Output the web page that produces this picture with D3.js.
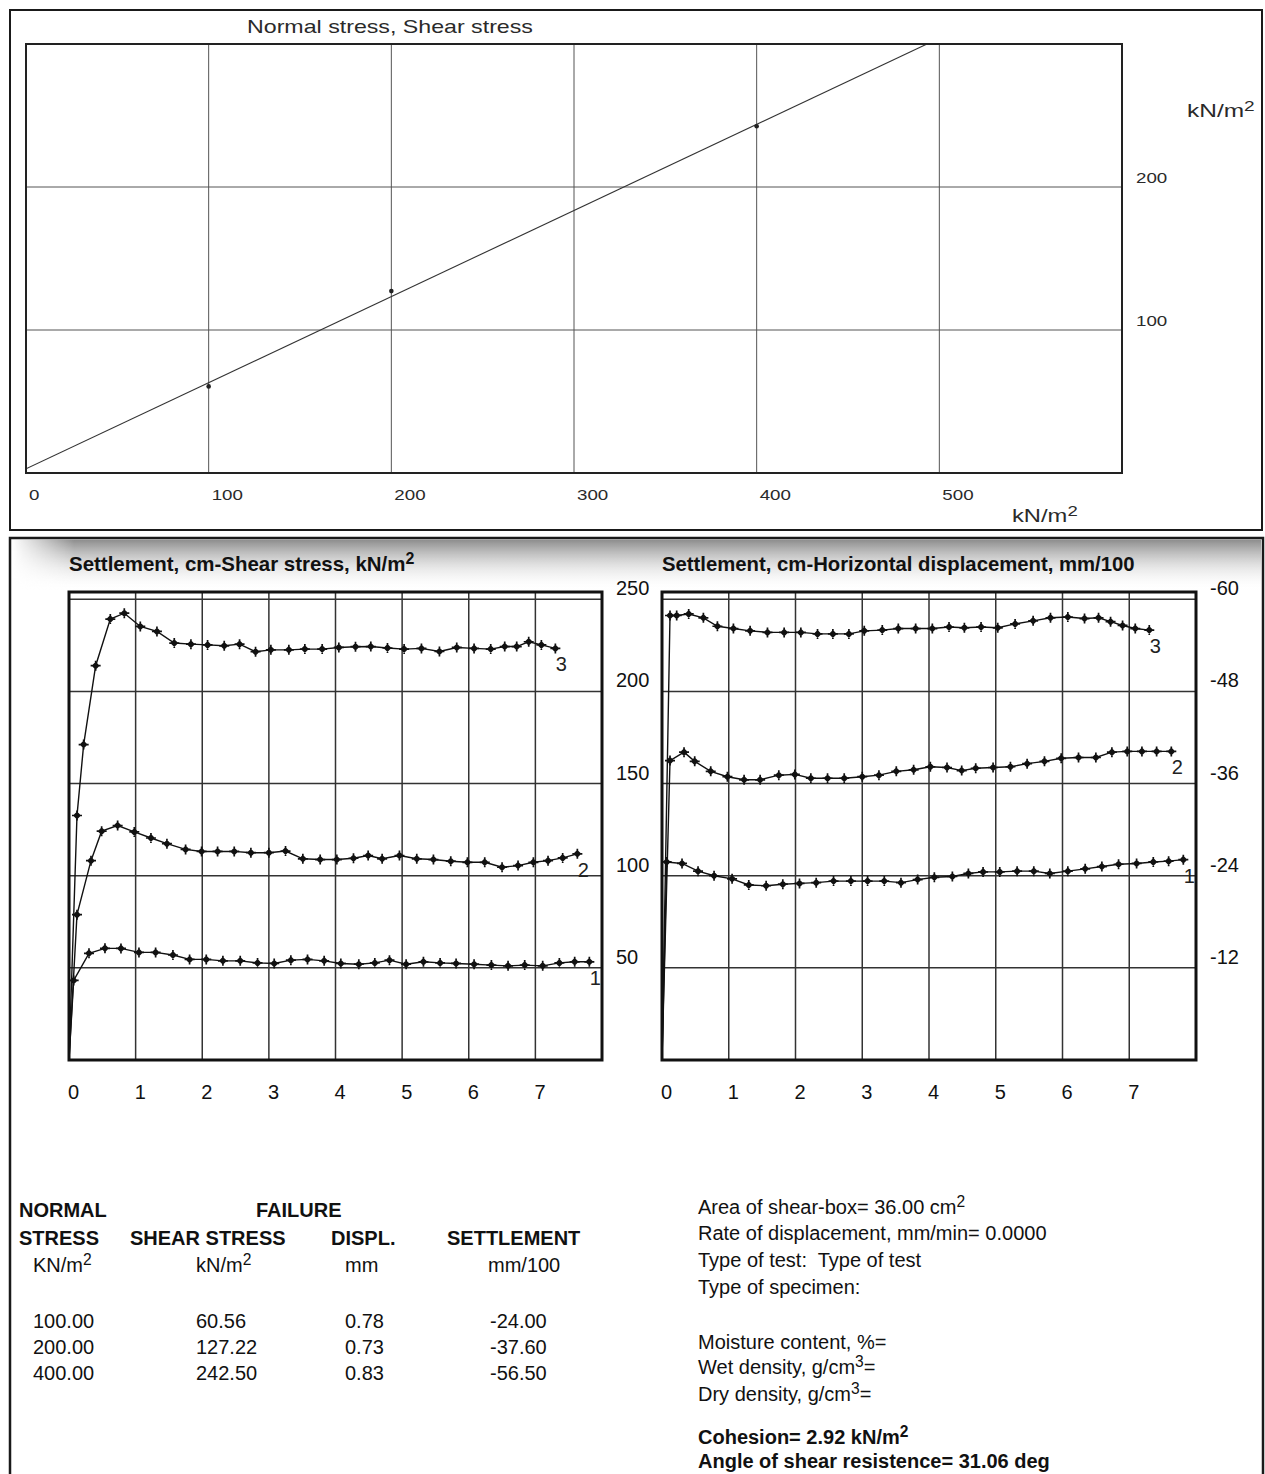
<!DOCTYPE html>
<html><head><meta charset="utf-8">
<script src="https://cdn.jsdelivr.net/npm/d3@7"></script>
<style>
html,body{margin:0;padding:0;background:#fff;}
svg{display:block;font-family:"Liberation Sans",Arial,sans-serif;}
</style></head><body>
<svg id="c" width="1265" height="1474"></svg>
<script>
// ---------------- DATA ----------------
const normalStress      = [100, 200, 400];
const failureShear      = [60.56, 127.22, 242.50];
const failureDispl      = [0.78, 0.73, 0.83];
const failureSettlement = [-24.00, -37.60, -56.50];
const cohesion = 2.92;
const phiDeg   = 31.06;

const topXTicks = [0, 100, 200, 300, 400, 500];
const topYTicks = [100, 200];
const shearTicks = [50, 100, 150, 200, 250];
const settleTicks = [-12, -24, -36, -48, -60];
const dispTicks = [0, 1, 2, 3, 4, 5, 6, 7];

// sample 1 (100 kN/m2)
const disp1   = [0.07,0.30,0.54,0.78,1.05,1.30,1.56,1.81,2.06,2.31,2.57,2.83,3.08,3.33,3.58,3.83,4.08,4.35,4.59,4.81,5.06,5.32,5.57,5.81,6.08,6.34,6.59,6.84,7.11,7.36,7.59,7.81];
const shear1  = [43.2,57.9,60.6,60.56,58.4,58.4,57.0,54.6,54.6,53.8,53.8,52.7,52.4,54.2,54.6,53.8,52.4,52.0,52.7,54.2,52.0,53.3,52.7,52.4,52.0,51.5,51.1,51.5,51.1,52.7,53.3,53.3];
const settle1 = [-25.8,-25.6,-24.6,-24.0,-23.6,-22.8,-22.7,-22.9,-23.0,-23.1,-23.3,-23.3,-23.3,-23.3,-23.1,-23.5,-23.8,-23.9,-24.3,-24.5,-24.5,-24.6,-24.6,-24.3,-24.6,-24.9,-25.2,-25.5,-25.6,-25.8,-25.9,-26.1];
// sample 2 (200 kN/m2)
const disp2   = [0.12,0.33,0.49,0.73,0.98,1.23,1.47,1.75,1.99,2.23,2.48,2.73,3.00,3.25,3.51,3.77,4.02,4.27,4.49,4.70,4.96,5.22,5.47,5.73,5.98,6.24,6.50,6.74,6.97,7.19,7.41,7.63];
const shear2  = [78.9,108.2,124.2,127.22,123.8,120.5,117.4,114.3,113.2,113.2,113.2,112.5,112.5,113.4,109.2,108.8,108.8,109.5,111.0,109.2,111.0,109.2,108.8,107.9,107.3,107.3,104.6,105.5,107.3,108.2,109.7,111.9];
const settle2 = [-39.0,-40.1,-38.9,-37.6,-36.9,-36.5,-36.5,-37.1,-37.2,-36.7,-36.7,-36.7,-36.9,-37.1,-37.6,-37.8,-38.2,-38.1,-37.7,-38.0,-38.1,-38.2,-38.6,-38.9,-39.3,-39.4,-39.4,-40.1,-40.2,-40.2,-40.2,-40.2];
// sample 3 (400 kN/m2)
const disp3   = [0.12,0.22,0.40,0.62,0.83,1.07,1.32,1.58,1.83,2.08,2.33,2.56,2.80,3.03,3.30,3.54,3.80,4.05,4.30,4.53,4.78,5.03,5.29,5.56,5.82,6.08,6.33,6.54,6.72,6.90,7.09,7.30];
const shear3  = [132.7,171.2,214.0,239.3,242.5,235.3,232.6,226.3,225.7,225.3,224.8,225.7,221.6,222.6,222.6,223.0,223.0,223.9,224.3,224.4,223.6,223.0,223.4,221.7,223.9,223.4,223.0,224.4,224.4,227.0,225.3,223.4];
const settle3 = [-57.9,-57.9,-58.1,-57.6,-56.5,-56.2,-55.9,-55.7,-55.7,-55.7,-55.5,-55.5,-55.5,-55.9,-56.0,-56.2,-56.2,-56.2,-56.4,-56.3,-56.4,-56.3,-56.8,-57.2,-57.6,-57.7,-57.5,-57.6,-57.1,-56.6,-56.2,-56.0];
const seriesNames = ["1", "2", "3"];

const topTitle = "Normal stress, Shear stress";
const unitText = ["kN/m", "2"];
const leftTitle = ["Settlement, cm-Shear stress, kN/m", "2"];
const rightTitle = "Settlement, cm-Horizontal displacement, mm/100";
const tableHead1 = ["NORMAL", "FAILURE"];
const tableHead2 = ["STRESS", "SHEAR STRESS", "DISPL.", "SETTLEMENT"];
const tableUnits = [[["KN/m"],["2",1]], [["kN/m"],["2",1]], [["mm"]], [["mm/100"]]];
const infoLines = [
  [["Area of shear-box= 36.00 cm"],["2",1]],
  [["Rate of displacement, mm/min= 0.0000"]],
  [["Type of test:  Type of test"]],
  [["Type of specimen:"]],
  [["Moisture content, %="]],
  [["Wet density, g/cm"],["3",1],["="]],
  [["Dry density, g/cm"],["3",1],["="]]
];
const resultLines = [
  [["Cohesion= " + cohesion.toFixed(2) + " kN/m"],["2",1]],
  [["Angle of shear resistence= " + phiDeg.toFixed(2) + " deg"]]
];

// ---------------- HELPERS ----------------
const svg = d3.select("#c");
const defs = svg.append("defs");
const INK = "#111";

function txt(parent, x, y, parts, o = {}) {
  const size = o.size || 20;
  const t = parent.append("text")
    .attr("font-size", size)
    .attr("font-weight", o.bold ? "bold" : "normal")
    .attr("text-anchor", o.anchor || "start")
    .attr("fill", o.fill || INK)
    .style("white-space", "pre");
  const arr = typeof parts === "string" ? [[parts]] : parts;
  let raised = false;
  arr.forEach(p => {
    const ts = t.append("tspan").text(p[0]);
    if (p[1]) {
      ts.attr("font-size", size * 0.78).attr("dy", -size * 0.36);
      raised = true;
    } else if (raised) {
      ts.attr("dy", size * 0.36);
      raised = false;
    }
  });
  let sx = o.sx || 1;
  if (o.w) {
    const bw = t.node().getBBox().width;
    if (bw > 0) sx = o.w / bw;
  }
  t.attr("transform", `translate(${x},${y}) scale(${sx},1)`);
  return t;
}

// ---------------- PANELS ----------------
svg.append("rect").attr("x", 10).attr("y", 10).attr("width", 1252).attr("height", 520)
  .attr("fill", "#fff").attr("stroke", "#1a1a1a").attr("stroke-width", 2);
svg.append("rect").attr("x", 10).attr("y", 538).attr("width", 1253).attr("height", 980)
  .attr("fill", "#fff").attr("stroke", "#1a1a1a").attr("stroke-width", 2.5);

// shading at top of the lower panel
const gV = defs.append("linearGradient").attr("id", "shadeV").attr("x1", 0).attr("y1", 0).attr("x2", 0).attr("y2", 1);
gV.append("stop").attr("offset", 0).attr("stop-color", "#7f7f7f").attr("stop-opacity", 0.9);
gV.append("stop").attr("offset", 0.45).attr("stop-color", "#c4c4c4").attr("stop-opacity", 0.6);
gV.append("stop").attr("offset", 1).attr("stop-color", "#ffffff").attr("stop-opacity", 0);
const gH = defs.append("linearGradient").attr("id", "shadeH").attr("x1", 0).attr("y1", 0).attr("x2", 1).attr("y2", 0);
gH.append("stop").attr("offset", 0).attr("stop-color", "#fff").attr("stop-opacity", 0);
gH.append("stop").attr("offset", 0.05).attr("stop-color", "#fff").attr("stop-opacity", 1);
gH.append("stop").attr("offset", 1).attr("stop-color", "#fff").attr("stop-opacity", 1);
const mask = defs.append("mask").attr("id", "shadeMask");
mask.append("rect").attr("x", 12).attr("y", 539).attr("width", 1249).attr("height", 52).attr("fill", "url(#shadeH)");
svg.append("rect").attr("x", 12).attr("y", 539.5).attr("width", 1249).attr("height", 52)
  .attr("fill", "url(#shadeV)").attr("mask", "url(#shadeMask)");

// ---------------- TOP CHART ----------------
const xT = d3.scaleLinear([0, 600], [26, 1122]);
const yT = d3.scaleLinear([0, 300], [473, 44]);
const topG = svg.append("g");
topG.append("rect").attr("x", xT(0)).attr("y", yT(300)).attr("width", xT(600) - xT(0)).attr("height", yT(0) - yT(300))
  .attr("fill", "#fff");
topG.selectAll(".vg").data(topXTicks.filter(d => d > 0)).join("line")
  .attr("x1", d => xT(d)).attr("x2", d => xT(d)).attr("y1", yT(0)).attr("y2", yT(300))
  .attr("stroke", "#555").attr("stroke-width", 1);
topG.selectAll(".hg").data(topYTicks).join("line")
  .attr("x1", xT(0)).attr("x2", xT(600)).attr("y1", d => yT(d)).attr("y2", d => yT(d))
  .attr("stroke", "#555").attr("stroke-width", 1);
defs.append("clipPath").attr("id", "topClip").append("rect")
  .attr("x", xT(0)).attr("y", yT(300)).attr("width", xT(600) - xT(0)).attr("height", yT(0) - yT(300));
const tanPhi = Math.tan(phiDeg * Math.PI / 180);
const envelope = [0, 600].map(s => [s, cohesion + tanPhi * s]);
topG.append("path").datum(envelope).attr("clip-path", "url(#topClip)")
  .attr("d", d3.line().x(d => xT(d[0])).y(d => yT(d[1])))
  .attr("fill", "none").attr("stroke", "#333").attr("stroke-width", 1.1);
topG.selectAll(".pt").data(normalStress.map((s, i) => [s, failureShear[i]])).join("circle")
  .attr("cx", d => xT(d[0])).attr("cy", d => yT(d[1])).attr("r", 2.3).attr("fill", "#222");
topG.append("rect").attr("x", xT(0)).attr("y", yT(300)).attr("width", xT(600) - xT(0)).attr("height", yT(0) - yT(300))
  .attr("fill", "none").attr("stroke", "#222").attr("stroke-width", 2);
topXTicks.forEach(v => txt(topG, xT(v) + 3, 500, String(v), { size: 15, sx: 1.25, fill: "#2a2a2a" }));
topYTicks.forEach(v => txt(topG, 1136, yT(v) - 4, String(v), { size: 15, sx: 1.25, fill: "#2a2a2a" }));
txt(topG, 247, 33, topTitle, { size: 18, w: 286, fill: "#2a2a2a" });
txt(topG, 1012, 522, [[unitText[0]], [unitText[1], 1]], { size: 18, w: 66, fill: "#2a2a2a" });
txt(topG, 1187, 117, [[unitText[0]], [unitText[1], 1]], { size: 18, w: 68, fill: "#2a2a2a" });

// ---------------- BOTTOM CHARTS ----------------
const xL = d3.scaleLinear([0, 8], [69, 602]);
const yL = d3.scaleLinear([0, 254], [1060, 592]);
const xR = d3.scaleLinear([0, 8], [662, 1196]);
const yR = d3.scaleLinear([0, -60.96], [1060, 592]);

const markerPath = "M-5,0H5M0,-5V5M0,-2.8L2.8,0L0,2.8L-2.8,0Z";

function drawPanel(xs, ys, yTicks, series, tickX) {
  const g = svg.append("g");
  g.append("rect").attr("x", xs.range()[0]).attr("y", ys.range()[1])
    .attr("width", xs.range()[1] - xs.range()[0]).attr("height", ys.range()[0] - ys.range()[1])
    .attr("fill", "#fff");
  g.selectAll(".vg").data(dispTicks.filter(d => d > 0)).join("line")
    .attr("x1", d => xs(d)).attr("x2", d => xs(d)).attr("y1", ys.range()[0]).attr("y2", ys.range()[1])
    .attr("stroke", "#333").attr("stroke-width", 1.5);
  g.selectAll(".hg").data(yTicks).join("line")
    .attr("x1", xs.range()[0]).attr("x2", xs.range()[1]).attr("y1", d => ys(d)).attr("y2", d => ys(d))
    .attr("stroke", "#333").attr("stroke-width", 1.5);
  const line = d3.line().x(d => xs(d[0])).y(d => ys(d[1]));
  series.forEach((s, i) => {
    const pts = s.x.map((x, k) => [x, s.y[k]]);
    g.append("path").datum([[0, 0]].concat(pts)).attr("d", line)
      .attr("fill", "none").attr("stroke", "#111").attr("stroke-width", 1.4);
    g.selectAll(".m" + i).data(pts).join("path")
      .attr("transform", d => `translate(${xs(d[0])},${ys(d[1])})`)
      .attr("d", markerPath).attr("fill", "#111").attr("stroke", "#111").attr("stroke-width", 1.7);
    const last = pts[pts.length - 1];
    txt(g, xs(last[0]) + 6, ys(last[1]) + 23, seriesNames[i], { size: 20, anchor: "middle", fill: "#222" });
  });
  g.append("rect").attr("x", xs.range()[0]).attr("y", ys.range()[1])
    .attr("width", xs.range()[1] - xs.range()[0]).attr("height", ys.range()[0] - ys.range()[1])
    .attr("fill", "none").attr("stroke", "#111").attr("stroke-width", 3);
  dispTicks.forEach(v => txt(g, xs(v) - 1, 1099, String(v), { size: 20 }));
  yTicks.forEach(v => txt(g, tickX, ys(v) - 4, String(v), { size: 20 }));
  return g;
}

drawPanel(xL, yL, shearTicks, [
  { x: disp1, y: shear1 }, { x: disp2, y: shear2 }, { x: disp3, y: shear3 }
], 616);
drawPanel(xR, yR, settleTicks, [
  { x: disp1, y: settle1 }, { x: disp2, y: settle2 }, { x: disp3, y: settle3 }
], 1210);

txt(svg, 69, 571, [[leftTitle[0]], [leftTitle[1], 1]], { size: 20, bold: true, w: 346 });
txt(svg, 662, 571, rightTitle, { size: 20, bold: true, w: 473 });

// ---------------- TABLE ----------------
const tbl = svg.append("g");
const head1X = [19, 256];
tableHead1.forEach((s, i) => txt(tbl, head1X[i], 1217, s, { size: 20, bold: true }));
const head2X = [19, 130, 331, 447];
tableHead2.forEach((s, i) => txt(tbl, head2X[i], 1245, s, { size: 20, bold: true }));
const unitX = [33, 196, 345, 488];
tableUnits.forEach((p, i) => txt(tbl, unitX[i], 1272, p, { size: 20 }));
const colX = [33, 196, 345, 490];
const rowY = [1328, 1354, 1380];
normalStress.forEach((s, r) => {
  const vals = [s.toFixed(2), failureShear[r].toFixed(2), failureDispl[r].toFixed(2), failureSettlement[r].toFixed(2)];
  vals.forEach((v, c) => txt(tbl, colX[c], rowY[r], v, { size: 20 }));
});

// ---------------- INFO BLOCK ----------------
const infoY = [1214, 1240, 1267, 1294, 1349, 1374, 1401];
infoLines.forEach((p, i) => txt(svg, 698, infoY[i], p, { size: 20 }));
const resY = [1444, 1468];
resultLines.forEach((p, i) => txt(svg, 698, resY[i], p, { size: 20, bold: true }));
</script>
</body></html>
